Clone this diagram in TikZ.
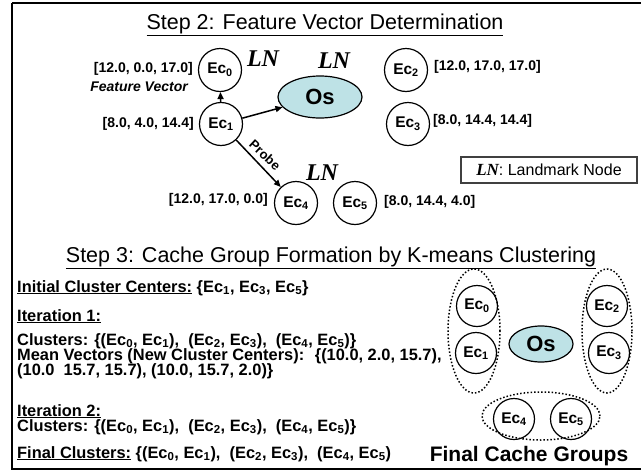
\documentclass[tikz,border=0pt]{standalone}
\usepackage{fontspec}
\setmainfont{Liberation Sans}
\newfontfamily\lnfont{Liberation Serif}
\usetikzlibrary{arrows.meta,shapes.geometric}
\definecolor{osfill}{RGB}{190,226,230}
\newcommand\Ec[1]{Ec\textsubscript{#1}}
\newcommand\LNtxt{{\lnfont\bfseries\itshape LN}}
\tikzset{
  fs/.style={font=\bfseries\fontsize{#1}{#1}\selectfont},
  ecnode/.style={circle, draw, line width=1.2pt, minimum size=43pt, inner sep=0pt, fs=15.5},
  ecsmall/.style={ecnode, minimum size=41pt},
  osnode/.style={ellipse, draw, line width=1.2pt, fill=osfill, inner sep=0pt, fs=22},
  vec/.style={inner sep=0pt, fs=14},
  lnlabel/.style={inner sep=0pt, font=\lnfont\bfseries\itshape\fontsize{24}{24}\selectfont},
  arr/.style={-{Triangle[length=7pt,width=6pt]}, line width=1.5pt},
  title/.style={inner sep=0pt, anchor=base, font=\fontsize{21.5}{21.5}\selectfont},
  body/.style={inner sep=0pt, anchor=base west, fs=16.4},
  group/.style={ellipse, draw, dotted, line width=1.5pt, inner sep=0pt},
}
\begin{document}
\begin{tikzpicture}[x=1pt,y=-1pt]
\useasboundingbox (0,0) rectangle (641,472);
\draw[line width=2pt] (12,2.5) -- (648,2.5);
\draw[line width=2pt] (12,2.5) -- (12,469) -- (648,469);

% Step 2
\node[title] (t1) at (325,29) {\underline{Step 2: Feature Vector Determination}};

\node[ecnode] (e0) at (220,70) {\Ec{0}};
\node[ecnode] (e1) at (221,124) {\Ec{1}};
\node[ecnode] (e2) at (406,70) {\Ec{2}};
\node[ecnode] (e3) at (408,124) {\Ec{3}};
\node[ecnode] (e4) at (296,203) {\Ec{4}};
\node[ecnode] (e5) at (355,203) {\Ec{5}};
\node[osnode, minimum width=84pt, minimum height=42pt] (os) at (320,97) {Os};

\node[lnlabel] (ln0) at (263,59) {LN};
\node[lnlabel] (ln1) at (334,61) {LN};
\node[lnlabel] (ln4) at (322,173) {LN};

\node[vec, anchor=east] (v0) at (193,69) {[12.0, 0.0, 17.0]};
\node[vec, anchor=east, font=\bfseries\itshape\fontsize{14}{14}\selectfont] (fv) at (188,87) {Feature Vector};
\node[vec, anchor=east] (v1) at (194,124) {[8.0, 4.0, 14.4]};
\node[vec, anchor=east] (v4) at (268,200) {[12.0, 17.0, 0.0]};
\node[vec, anchor=west] (v2) at (434,67) {[12.0, 17.0, 17.0]};
\node[vec, anchor=west] (v3) at (433,121) {[8.0, 14.4, 14.4]};
\node[vec, anchor=west] (v5) at (384,202) {[8.0, 14.4, 4.0]};

\draw[arr] (e1) -- (e0);
\draw[arr] (e1) -- (os);
\draw[arr] (e1) -- (e4);
\node[inner sep=0pt, rotate=-43, fs=13] (pr) at (265,155) {Probe};

\node[draw=black!75, line width=1.3pt, minimum width=176pt, minimum height=26pt, inner sep=0pt, font=\fontsize{16}{16}\selectfont] (key) at (549,170) {\fontsize{17}{17}\selectfont\LNtxt\fontsize{16}{16}\selectfont: Landmark Node};

% Step 3
\node[title] (t2) at (331,262) {\underline{Step 3: Cache Group Formation by K-means Clustering}};

\node[body] (l1) at (17,292) {\underline{Initial Cluster Centers:} \{\Ec{1}, \Ec{3}, \Ec{5}\}};
\node[body] (l2) at (17,321) {\underline{Iteration 1:}};
\node[body] (l3) at (17,345) {Clusters: \{(\Ec{0}, \Ec{1}),~ (\Ec{2}, \Ec{3}),~ (\Ec{4}, \Ec{5})\}};
\node[body] (l4) at (17,360) {Mean Vectors (New Cluster Centers):~ \{(10.0, 2.0, 15.7),};
\node[body] (l5) at (17,375) {(10.0~ 15.7, 15.7), (10.0, 15.7, 2.0)\}};
\node[body] (l6) at (17,416) {\underline{Iteration 2:}};
\node[body] (l7) at (17,431) {Clusters: \{(\Ec{0}, \Ec{1}),~ (\Ec{2}, \Ec{3}),~ (\Ec{4}, \Ec{5})\}};
\node[body] (l8) at (17,458) {\underline{Final Clusters:} \{(\Ec{0}, \Ec{1}),~ (\Ec{2}, \Ec{3}),~ (\Ec{4}, \Ec{5})};

\node[ecsmall] (f0) at (477,306) {\Ec{0}};
\node[ecsmall] (f1) at (476,353) {\Ec{1}};
\node[ecsmall] (f2) at (607,306) {\Ec{2}};
\node[ecsmall] (f3) at (609,353) {\Ec{3}};
\node[ecsmall] (f4) at (514,419) {\Ec{4}};
\node[ecsmall] (f5) at (571,419) {\Ec{5}};
\node[osnode, minimum width=64pt, minimum height=36pt] (os2) at (541,344) {Os};

\node[group, minimum width=52pt, minimum height=124pt] (g1) at (474,331) {};
\node[group, minimum width=50pt, minimum height=124pt] (g2) at (607,331) {};
\node[group, minimum width=118pt, minimum height=48pt] (g3) at (541,416) {};

\node[inner sep=0pt, anchor=base, fs=21] (fcg) at (529,461) {Final Cache Groups};
\end{tikzpicture}
\end{document}
